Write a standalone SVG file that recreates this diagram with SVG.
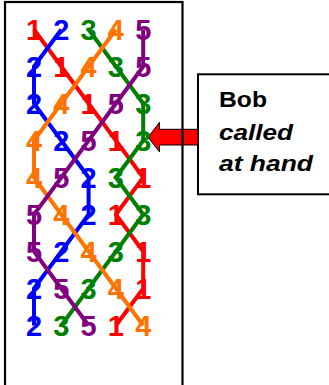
<svg xmlns="http://www.w3.org/2000/svg" width="329" height="385" viewBox="0 0 329 385">
<style>
.d{font-family:"Liberation Sans",Arial,sans-serif;font-weight:bold;font-size:29px;text-anchor:middle}
.p{fill:none;stroke-width:4;stroke-linejoin:round;stroke-linecap:butt}
.t{font-family:"Liberation Sans",Arial,sans-serif;font-weight:bold;font-size:22px;fill:#000}
</style>
<rect width="329" height="385" fill="#fff"/>
<g id="callout">
<rect x="198" y="74.3" width="140" height="120" fill="#fff" stroke="#000" stroke-width="2"/>
<text class="t" x="219" y="107" textLength="48" lengthAdjust="spacingAndGlyphs">Bob</text>
<text class="t" x="219" y="140" font-style="italic" textLength="74" lengthAdjust="spacingAndGlyphs">called</text>
<text class="t" x="219" y="171" font-style="italic" textLength="94" lengthAdjust="spacingAndGlyphs">at hand</text>
</g>
<g id="arrow">
<path d="M148,137.3 L159.5,122.3 L159.5,129.3 L198,129.3 L198,145 L159.5,145 L159.5,152 Z" fill="#FF0000" stroke="#000" stroke-width="1"/>
</g>
<g id="frame">
<rect x="5" y="2" width="177.5" height="400" fill="none" stroke="#000" stroke-width="2.2"/>
</g>
<g id="connectors">
<polyline class="p" stroke="#FF0000" points="34,29.5 61.3,66.5 88.6,103.5 115.9,140.5 143.2,177.5 115.9,214.5 143.2,251.5 143.2,288.5 115.9,325.5"/>
<polyline class="p" stroke="#0000FF" points="61.3,29.5 34,66.5 34,103.5 61.3,140.5 88.6,177.5 88.6,214.5 61.3,251.5 34,288.5 34,325.5"/>
<polyline class="p" stroke="#008000" points="88.6,29.5 115.9,66.5 143.2,103.5 143.2,140.5 115.9,177.5 143.2,214.5 115.9,251.5 88.6,288.5 61.3,325.5"/>
<polyline class="p" stroke="#FF7300" points="115.9,29.5 88.6,66.5 61.3,103.5 34,140.5 34,177.5 61.3,214.5 88.6,251.5 115.9,288.5 143.2,325.5"/>
<polyline class="p" stroke="#800080" points="143.2,29.5 143.2,66.5 115.9,103.5 88.6,140.5 61.3,177.5 34,214.5 34,251.5 61.3,288.5 88.6,325.5"/>
</g>
<g id="bell1" class="d" fill="#FF0000">
<text x="34" y="40">1</text><text x="61.3" y="77">1</text><text x="88.6" y="114">1</text><text x="115.9" y="151">1</text><text x="143.2" y="188">1</text><text x="115.9" y="225">1</text><text x="143.2" y="262">1</text><text x="143.2" y="299">1</text><text x="115.9" y="336">1</text>
</g>
<g id="bell2" class="d" fill="#0000FF">
<text x="61.3" y="40">2</text><text x="34" y="77">2</text><text x="34" y="114">2</text><text x="61.3" y="151">2</text><text x="88.6" y="188">2</text><text x="88.6" y="225">2</text><text x="61.3" y="262">2</text><text x="34" y="299">2</text><text x="34" y="336">2</text>
</g>
<g id="bell3" class="d" fill="#008000">
<text x="88.6" y="40">3</text><text x="115.9" y="77">3</text><text x="143.2" y="114">3</text><text x="143.2" y="151">3</text><text x="115.9" y="188">3</text><text x="143.2" y="225">3</text><text x="115.9" y="262">3</text><text x="88.6" y="299">3</text><text x="61.3" y="336">3</text>
</g>
<g id="bell4" class="d" fill="#FF7300">
<text x="115.9" y="40">4</text><text x="88.6" y="77">4</text><text x="61.3" y="114">4</text><text x="34" y="151">4</text><text x="34" y="188">4</text><text x="61.3" y="225">4</text><text x="88.6" y="262">4</text><text x="115.9" y="299">4</text><text x="143.2" y="336">4</text>
</g>
<g id="bell5" class="d" fill="#800080">
<text x="143.2" y="40">5</text><text x="143.2" y="77">5</text><text x="115.9" y="114">5</text><text x="88.6" y="151">5</text><text x="61.3" y="188">5</text><text x="34" y="225">5</text><text x="34" y="262">5</text><text x="61.3" y="299">5</text><text x="88.6" y="336">5</text>
</g>
</svg>
